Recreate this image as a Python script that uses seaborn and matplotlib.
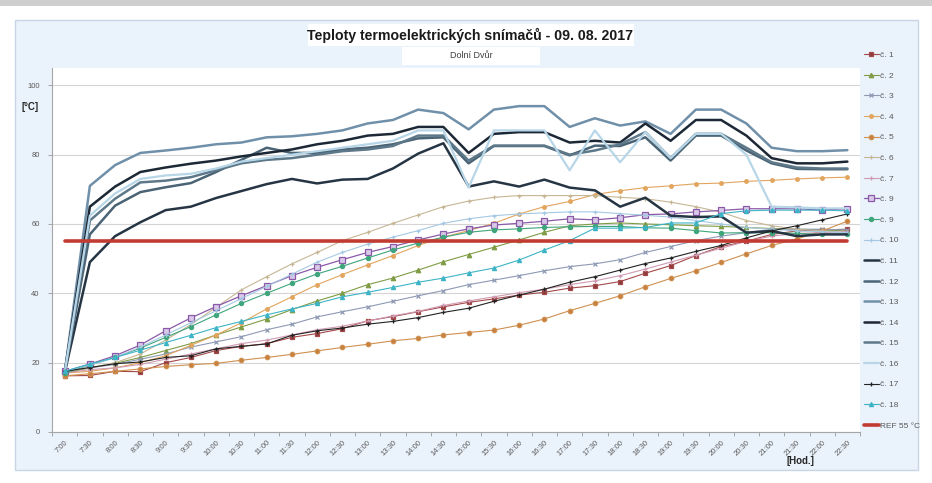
import numpy as np
import pandas as pd
import matplotlib
matplotlib.use("Agg")
import matplotlib.pyplot as plt
import seaborn as sns
from matplotlib.patches import Rectangle

# time axis (categories)
times = ["7:00", "7:30", "8:00", "8:30", "9:00", "9:30", "10:00", "10:30",
         "11:00", "11:30", "12:00", "12:30", "13:00", "13:30", "14:00", "14:30",
         "15:00", "15:30", "16:00", "16:30", "17:00", "17:30", "18:00", "18:30",
         "19:00", "19:30", "20:00", "20:30", "21:00", "21:30", "22:00", "22:30"]

# sensor temperatures [°C]
c1 = [16.2, 16.3, 17.5, 17.4, 20.0, 21.5, 23.5, 24.7, 25.5, 27.3, 28.4, 29.8, 32.1, 33.3, 34.7, 36.1,
      37.4, 38.4, 39.5, 40.3, 41.5, 42.2, 43.4, 45.8, 48.0, 50.9, 53.5, 55.0, 57.0, 58.0, 58.3, 58.5]
c2 = [17.0, 18.5, 19.8, 21.5, 23.5, 25.5, 28.0, 30.3, 32.6, 35.3, 37.8, 40.0, 42.5, 44.4, 46.7, 49.1,
      51.2, 53.3, 55.4, 57.6, 59.5, 60.0, 60.3, 60.0, 59.8, 59.5, 59.3, 59.0, 58.7, 58.5, 58.3, 58.0]
c3 = [17.5, 18.5, 19.5, 21.0, 22.5, 24.5, 26.0, 27.5, 29.5, 31.1, 33.2, 34.7, 36.1, 37.7, 39.3, 40.8,
      42.5, 43.8, 45.1, 46.5, 47.7, 48.5, 49.7, 51.8, 53.5, 55.2, 56.5, 57.5, 58.5, 58.5, 58.5, 58.3]
c4 = [17.0, 17.5, 18.5, 20.0, 22.0, 25.0, 28.0, 31.5, 35.5, 39.0, 42.5, 45.4, 48.2, 50.9, 53.8, 56.2,
      58.1, 60.2, 62.9, 65.0, 66.5, 68.5, 69.6, 70.5, 71.0, 71.6, 71.8, 72.3, 72.6, 73.0, 73.3, 73.5]
c5 = [16.2, 16.8, 17.5, 18.2, 18.9, 19.4, 19.8, 20.7, 21.5, 22.4, 23.4, 24.4, 25.3, 26.3, 27.0, 28.0,
      28.7, 29.4, 30.8, 32.6, 35.0, 37.1, 39.3, 41.9, 44.3, 46.5, 48.9, 51.4, 53.8, 55.7, 58.0, 60.8]
c6 = [17.5, 18.5, 20.0, 22.5, 26.5, 31.0, 36.0, 41.0, 44.8, 48.5, 51.8, 55.2, 57.6, 60.2, 62.6, 65.0,
      66.6, 67.7, 68.2, 68.2, 68.2, 68.2, 67.7, 67.3, 66.3, 65.0, 63.4, 61.0, 59.5, 58.5, 58.0, 57.5]
c7 = [17.0, 18.0, 18.5, 19.5, 21.0, 22.5, 24.0, 25.5, 26.5, 28.0, 29.5, 30.5, 32.0, 33.5, 34.8, 36.5,
      37.8, 39.0, 40.2, 41.2, 42.5, 43.6, 45.1, 47.0, 49.0, 51.0, 53.0, 55.0, 56.5, 57.3, 57.5, 57.8]
c9a = [17.5, 19.6, 22.0, 25.1, 29.2, 32.9, 36.2, 39.3, 42.2, 45.1, 47.5, 49.7, 51.8, 53.5, 55.4, 57.1,
       58.6, 59.7, 60.2, 60.8, 61.5, 61.2, 61.8, 62.7, 62.9, 63.5, 63.9, 64.4, 64.4, 64.4, 64.0, 64.4]
c9b = [17.0, 19.3, 21.5, 24.2, 27.3, 30.4, 33.8, 37.1, 40.0, 42.9, 45.6, 47.8, 50.2, 52.5, 54.5, 56.2,
       57.6, 58.3, 58.6, 59.0, 59.2, 59.3, 59.3, 58.9, 58.8, 58.1, 57.4, 57.5, 57.5, 57.3, 57.0, 57.0]
c10 = [17.5, 19.3, 21.5, 24.5, 28.0, 31.5, 35.0, 38.5, 42.0, 45.5, 49.0, 51.8, 54.2, 56.2, 58.1, 60.2,
       61.5, 62.4, 62.9, 63.2, 63.5, 63.5, 63.0, 62.5, 62.0, 61.0, 60.0, 59.0, 58.5, 58.0, 57.8, 57.5]
c11 = [17.0, 49.0, 56.5, 60.5, 64.0, 65.0, 67.5, 69.5, 71.5, 73.0, 71.7, 72.8, 73.0, 76.0, 80.3, 83.3,
       70.8, 72.3, 70.8, 72.8, 70.5, 69.7, 65.0, 67.6, 62.4, 62.0, 62.2, 57.5, 58.0, 56.5, 57.0, 57.0]
c12 = [17.0, 57.0, 65.3, 69.2, 70.6, 71.8, 75.0, 78.5, 82.0, 80.5, 80.5, 81.5, 82.0, 83.0, 84.7, 85.0,
       77.5, 82.5, 82.5, 82.5, 79.8, 82.6, 82.5, 85.0, 78.3, 85.5, 85.5, 81.2, 77.5, 75.9, 75.8, 75.8]
c13 = [17.0, 71.0, 77.0, 80.5, 81.2, 82.0, 83.0, 83.5, 85.0, 85.3, 86.0, 87.0, 89.0, 90.0, 93.0, 92.0,
       87.3, 93.0, 94.0, 94.0, 88.0, 90.5, 88.4, 89.6, 86.0, 93.0, 93.0, 89.0, 82.0, 81.0, 81.0, 81.3]
c14 = [17.0, 65.0, 70.8, 75.0, 76.3, 77.4, 78.3, 79.5, 80.5, 81.5, 83.0, 84.0, 85.5, 86.0, 88.0, 88.0,
       80.5, 86.0, 86.5, 86.5, 83.5, 84.0, 83.5, 89.0, 84.0, 90.0, 90.0, 85.5, 79.0, 77.5, 77.5, 78.0]
c15 = [17.0, 61.0, 67.3, 72.0, 72.5, 73.5, 75.5, 77.5, 78.5, 79.0, 80.0, 81.0, 81.5, 82.5, 85.5, 85.5,
       78.3, 82.6, 82.6, 82.6, 80.0, 81.2, 83.0, 86.5, 79.0, 86.0, 86.0, 82.0, 77.8, 76.3, 76.0, 76.0]
c16 = [17.0, 62.4, 68.8, 73.0, 74.0, 74.5, 76.0, 78.0, 79.0, 80.0, 81.0, 82.0, 83.0, 84.0, 87.0, 87.0,
       70.5, 87.0, 87.0, 87.0, 75.5, 87.0, 77.8, 86.5, 79.0, 86.0, 86.0, 80.0, 65.0, 64.8, 64.5, 64.5]
c17 = [17.5, 18.6, 19.7, 20.2, 21.5, 22.0, 24.0, 24.7, 25.4, 27.9, 29.2, 30.0, 31.1, 31.9, 33.0, 34.5,
       35.7, 37.7, 39.5, 41.2, 43.2, 44.8, 46.7, 48.6, 50.2, 52.1, 53.8, 56.0, 58.0, 59.5, 61.2, 62.9]
c18 = [17.5, 19.6, 21.5, 23.6, 25.8, 27.9, 30.1, 31.9, 33.8, 35.5, 37.1, 39.0, 40.3, 41.7, 43.2, 44.4,
       45.9, 47.3, 49.6, 52.5, 55.2, 58.8, 58.8, 59.0, 60.3, 60.3, 63.0, 63.8, 64.0, 64.0, 64.0, 63.8]
ref = [55.0] * len(times)

labels = ["č. 1", "č. 2", "č. 3", "č. 4", "č. 5", "č. 6", "č. 7", "č. 9", "č. 9", "č. 10",
          "č. 11", "č. 12", "č. 13", "č. 14", "č. 15", "č. 16", "č. 17", "č. 18", "REF 55 °C"]
values = [c1, c2, c3, c4, c5, c6, c7, c9a, c9b, c10,
          c11, c12, c13, c14, c15, c16, c17, c18, ref]

# (colour, marker, marker size, face colour, line width)
styles = [
    ("#a4494a", "s", 3.2, "#8e3b3b", 0.8),
    ("#7f9c45", "^", 3.2, "#7f9c45", 0.8),
    ("#8e99b4", "x", 3.0, "#8e99b4", 0.8),
    ("#e2a55e", "o", 2.6, "#e2a55e", 0.8),
    ("#d09050", "o", 3.2, "#c58040", 0.8),
    ("#c6b694", "+", 3.2, "#c6b694", 0.8),
    ("#cf9bb3", "+", 3.2, "#cf9bb3", 0.8),
    ("#8a5aa8", "s", 4.2, "#d9c9e8", 0.9),
    ("#3fa57c", "o", 3.0, "#3fa57c", 0.8),
    ("#a5c8e2", "+", 2.8, "#a5c8e2", 0.8),
    ("#263544", None, 0, None, 1.8),
    ("#4a6476", None, 0, None, 1.8),
    ("#7090aa", None, 0, None, 1.8),
    ("#1c2835", None, 0, None, 1.8),
    ("#5d7889", None, 0, None, 1.8),
    ("#b7d6e7", None, 0, None, 1.6),
    ("#222222", "+", 3.2, "#222222", 0.8),
    ("#3db4c6", "^", 3.0, "#3db4c6", 0.8),
    ("#c23b32", None, 0, None, 2.6),
]

sns.set_theme(style="white")
plt.rcParams['font.family'] = ['Liberation Sans Narrow', 'Liberation Sans', 'DejaVu Sans']

fig = plt.figure(figsize=(9.32, 4.83), dpi=100)
fig.patch.set_facecolor("white")
# chart frame (light blue) and the grey strip of the screenshot
fig.patches.append(Rectangle((15 / 932, 13 / 483), 903 / 932, 450 / 483, transform=fig.transFigure,
                             facecolor="#eaf2fb", edgecolor="#c8d5e3", lw=1.0, zorder=-2))
fig.patches.append(Rectangle((0, 1 - 6 / 483), 1, 6 / 483, transform=fig.transFigure,
                             facecolor="#cfcfcf", edgecolor="none", zorder=-2))
# white boxes behind title and subtitle
fig.patches.append(Rectangle((308 / 932, 1 - 46 / 483), 326 / 932, 22 / 483, transform=fig.transFigure,
                             facecolor="white", edgecolor="none", zorder=-1))
fig.patches.append(Rectangle((402 / 932, 1 - 65 / 483), 138 / 932, 18 / 483, transform=fig.transFigure,
                             facecolor="white", edgecolor="none", zorder=-1))

ax = fig.add_axes([52 / 932, 1 - 432 / 483, 808 / 932, 364 / 483])
ax.set_zorder(2)
ax.set_facecolor("white")

pos = np.arange(len(times))
for lab, vals, (col, mk, ms, mfc, lw) in zip(labels, values, styles):
    df = pd.DataFrame({"t": pos, "v": vals})
    if mk is None:
        sns.lineplot(data=df, x="t", y="v", ax=ax, color=col, lw=lw, label=lab,
                     solid_capstyle="round")
    else:
        sns.lineplot(data=df, x="t", y="v", ax=ax, color=col, lw=lw, label=lab,
                     marker=mk, markersize=ms, markerfacecolor=mfc,
                     markeredgecolor=col if mk in ("+", "x") or mfc != col else mfc,
                     markeredgewidth=0.9)

ax.set_xlim(-0.5, len(times) - 0.5)
ax.set_ylim(0, 105)
ax.set_yticks([0, 20, 40, 60, 80, 100])
ax.yaxis.grid(True, color="#d4d4d4", lw=0.8)
ax.set_axisbelow(True)
ax.set_xlabel("")
ax.set_ylabel("")
for s in ("top", "right"):
    ax.spines[s].set_visible(False)
for s in ("left", "bottom"):
    ax.spines[s].set_color("#a6a6a6")
    ax.spines[s].set_linewidth(0.8)

ax.set_xticks(pos)
ax.set_xticklabels(times, rotation=45, ha="right", rotation_mode="anchor",
                   fontsize=5.5, color="#595959")
ax.set_xticks(np.arange(-0.5, len(times), 1), minor=True)
ax.tick_params(axis="x", which="major", length=0, pad=5)
ax.tick_params(axis="x", which="minor", length=3, color="#a6a6a6", width=0.7, direction="out")
ax.tick_params(axis="y", length=3, color="#a6a6a6", width=0.7, direction="out",
               labelsize=5.5, labelcolor="#595959", pad=6)
ax.tick_params(bottom=True, left=True, which="both")

ax.get_legend().remove()
handles, labs = ax.get_legend_handles_labels()
leg = fig.legend(handles, labs, loc="upper left", bbox_to_anchor=(861 / 932, 1 - 48 / 483),
                 frameon=False, fontsize=6, labelspacing=1.53, handlelength=1.7,
                 handletextpad=0.2, borderaxespad=0, labelcolor="#595959")
leg.set_zorder(3)

fig.text(470 / 932, 1 - 35 / 483, "Teploty termoelektrických snímačů - 09. 08. 2017",
         ha="center", va="center", fontsize=10.2, fontweight="bold", color="#1a1a1a", zorder=3)
fig.text(471 / 932, 1 - 56 / 483, "Dolní Dvůr", ha="center", va="center",
         fontsize=6.5, color="#404040", zorder=3)
fig.text(30 / 932, 1 - 107 / 483, "[°C]", ha="center", va="center", fontsize=7,
         fontweight="bold", color="#262626", zorder=3)
fig.text(800 / 932, 1 - 461 / 483, "[Hod.]", ha="center", va="center", fontsize=7,
         fontweight="bold", color="#262626", zorder=3)

fig.savefig("out.png", dpi=100, facecolor="white")
